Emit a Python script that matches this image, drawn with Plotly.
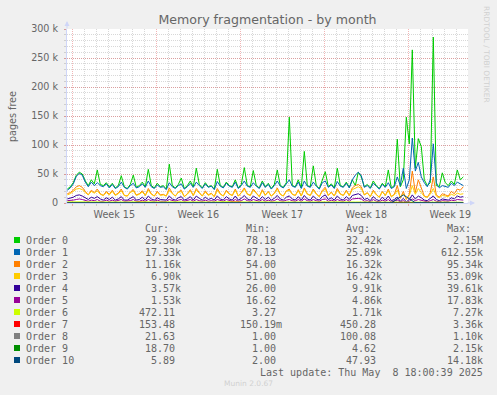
import numpy as np
import pandas as pd
import plotly.graph_objects as go

# ---------------- data (values in thousands of pages) ----------------
t_start = "2025-04-06 14:00"

order0 = [24, 28, 35, 48, 53, 50, 38, 30, 40, 33,
          57, 32, 30, 35, 28, 34, 26, 30, 47, 28,
          25, 32, 48, 27, 30, 36, 28, 58, 30, 26,
          34, 28, 30, 24, 67, 30, 26, 32, 43, 25,
          30, 38, 28, 60, 32, 26, 35, 28, 30, 24,
          58, 30, 27, 36, 30, 28, 40, 26, 32, 61,
          30, 28, 56, 30, 26, 38, 28, 34, 25, 32,
          57, 30, 27, 35, 148, 30, 28, 40, 26, 89,
          30, 28, 64, 30, 25, 38, 54, 28, 33, 26,
          60, 30, 28, 36, 27, 40, 30, 53, 45, 28,
          32, 26, 38, 30, 25, 34, 28, 57, 26, 30,
          110, 28, 40, 148, 102, 264, 60, 111, 97, 40,
          30, 35, 286, 30, 28, 52, 35, 30, 38, 32,
          57, 40, 45]
order1 = [22, 26, 33, 46, 51, 48, 36, 28, 36, 30,
          35, 30, 28, 33, 26, 32, 25, 28, 36, 27,
          24, 30, 34, 26, 28, 33, 27, 38, 28, 25,
          31, 27, 28, 23, 35, 28, 25, 30, 33, 24,
          28, 34, 27, 36, 30, 25, 33, 27, 29, 23,
          37, 29, 26, 34, 29, 27, 36, 25, 30, 38,
          29, 27, 35, 29, 25, 35, 27, 32, 24, 30,
          38, 29, 26, 33, 40, 29, 27, 36, 25, 38,
          29, 27, 36, 29, 24, 35, 38, 27, 31, 25,
          37, 29, 27, 34, 26, 40, 48, 53, 47, 27,
          30, 25, 34, 29, 24, 32, 27, 35, 25, 28,
          45, 30, 60, 25, 40, 112, 55, 70, 45, 35,
          28, 40, 102, 35, 26, 30, 28, 27, 34, 30,
          36, 33, 30]
order2 = [16, 18, 22, 28, 30, 27, 20, 14, 22, 18,
          24, 16, 13, 20, 15, 22, 14, 17, 24, 13,
          12, 19, 23, 14, 16, 21, 13, 25, 16, 12,
          20, 14, 15, 12, 26, 17, 12, 19, 22, 11,
          16, 23, 13, 25, 18, 12, 21, 14, 17, 11,
          25, 16, 12, 22, 16, 13, 24, 12, 18, 26,
          16, 13, 24, 17, 11, 23, 14, 20, 12, 17,
          26, 15, 12, 21, 24, 15, 13, 23, 12, 26,
          16, 13, 24, 16, 11, 22, 27, 13, 19, 12,
          25, 16, 13, 22, 13, 26, 30, 32, 28, 14,
          18, 11, 22, 15, 10, 20, 13, 24, 11, 15,
          30, 8, 20, 6, 15, 55, 18, 40, 25, 12,
          10, 18, 45, 14, 10, 16, 14, 12, 20, 16,
          24, 22, 28]
order3 = [14, 16, 20, 24, 25, 23, 18, 14, 20, 17,
          21, 15, 13, 18, 14, 20, 13, 16, 21, 13,
          12, 18, 21, 13, 15, 19, 13, 22, 15, 12,
          18, 13, 14, 12, 22, 16, 12, 18, 20, 11,
          15, 21, 13, 22, 17, 12, 19, 13, 16, 11,
          22, 15, 12, 20, 15, 13, 22, 12, 17, 24,
          15, 13, 22, 16, 11, 21, 13, 19, 12, 16,
          24, 15, 12, 20, 22, 15, 13, 21, 12, 24,
          15, 13, 22, 15, 11, 20, 24, 13, 18, 12,
          22, 15, 13, 20, 13, 23, 26, 28, 25, 14,
          17, 11, 20, 14, 10, 19, 13, 21, 11, 14,
          22, 10, 16, 8, 13, 30, 15, 25, 18, 11,
          10, 15, 25, 12, 9, 13, 12, 11, 15, 13,
          17, 15, 16]
order4 = [7, 8, 10, 13, 14, 12, 9, 6, 10, 8,
          11, 7, 5, 9, 6, 10, 5, 7, 11, 5,
          5, 8, 11, 5, 6, 10, 5, 12, 7, 5,
          9, 6, 6, 5, 12, 7, 5, 9, 11, 5,
          7, 11, 5, 12, 8, 5, 10, 6, 8, 5,
          12, 7, 5, 11, 7, 5, 12, 5, 8, 13,
          7, 5, 12, 8, 5, 11, 6, 10, 5, 8,
          13, 7, 5, 10, 12, 7, 5, 11, 5, 13,
          7, 5, 12, 7, 5, 11, 14, 6, 9, 5,
          12, 7, 5, 11, 6, 13, 15, 16, 13, 6,
          8, 4, 11, 6, 4, 10, 5, 12, 4, 6,
          10, 3, 8, 2, 6, 14, 7, 12, 9, 5,
          4, 8, 12, 6, 4, 7, 6, 5, 9, 7,
          12, 10, 11]
order5 = [4, 4, 5, 6, 7, 6, 5, 3, 5, 4,
          6, 3, 3, 5, 3, 5, 3, 4, 6, 3,
          3, 4, 6, 3, 3, 5, 3, 6, 4, 3,
          5, 3, 3, 3, 6, 4, 3, 5, 6, 3,
          4, 6, 3, 6, 4, 3, 5, 3, 4, 3,
          6, 4, 3, 6, 4, 3, 6, 3, 4, 7,
          4, 3, 6, 4, 3, 6, 3, 5, 3, 4,
          7, 4, 3, 5, 6, 4, 3, 6, 3, 7,
          4, 3, 6, 4, 3, 6, 7, 3, 5, 3,
          6, 4, 3, 6, 3, 7, 8, 8, 7, 3,
          4, 2, 6, 3, 2, 5, 3, 6, 2, 3,
          5, 2, 4, 1, 3, 7, 4, 6, 5, 3,
          2, 4, 6, 3, 2, 4, 3, 3, 5, 4,
          6, 5, 5]
# daily samples for the small orders
order6 = [2.0, 1.8, 2.2, 1.5, 1.9, 1.7, 2.1, 1.6, 1.8, 2.0, 1.5, 1.9, 1.7, 2.2, 1.6, 1.8, 1.9,
          1.5, 2.0, 1.7, 1.8, 2.1, 1.6, 1.9, 1.7, 1.5, 2.0, 1.8, 1.2, 0.9, 1.4, 1.6, 1.5, 1.3]
order7 = [0.5, 0.3, 0.8, 0.4, 0.6, 0.2, 1.2, 0.5, 0.3, 0.7, 0.4, 0.9, 0.3, 0.5, 1.5, 0.4, 0.6,
          0.3, 0.8, 0.5, 0.4, 1.0, 0.3, 0.6, 0.4, 0.7, 0.5, 0.3, 0.9, 0.2, 0.4, 0.3, 0.5, 0.2]
order8 = [0.10, 0.12, 0.08, 0.11, 0.09, 0.10, 0.13, 0.08, 0.10, 0.11, 0.09, 0.10, 0.12, 0.08, 0.10, 0.11, 0.09,
          0.10, 0.12, 0.09, 0.10, 0.11, 0.08, 0.10, 0.12, 0.09, 0.10, 0.11, 0.15, 0.06, 0.10, 0.09, 0.08, 0.02]
order9 = [0.005, 0.004, 0.006, 0.005, 0.004, 0.005, 0.006, 0.004, 0.005, 0.005, 0.004, 0.006, 0.005, 0.004, 0.005, 0.006, 0.004,
          0.005, 0.005, 0.004, 0.006, 0.005, 0.004, 0.005, 0.006, 0.004, 0.005, 0.005, 0.008, 0.003, 0.004, 0.005, 0.004, 0.019]
order10 = [0.04, 0.05, 0.03, 0.05, 0.04, 0.06, 0.04, 0.05, 0.03, 0.05, 0.04, 0.05, 0.06, 0.04, 0.05, 0.03, 0.05,
           0.04, 0.05, 0.04, 0.06, 0.04, 0.05, 0.03, 0.05, 0.04, 0.06, 0.05, 14.0, 0.5, 0.05, 0.04, 0.05, 0.006]

series_names = ["Order 0", "Order 1", "Order 2", "Order 3", "Order 4", "Order 5",
                "Order 6", "Order 7", "Order 8", "Order 9", "Order 10"]
series_colors = ["#00CC00", "#0066B3", "#FF8000", "#FFCC00", "#330099", "#990099",
                 "#CCFF00", "#FF0000", "#808080", "#008F00", "#00487D"]
cur_vals = ["29.30k", "17.33k", "11.16k", "6.90k", "3.57k", "1.53k", "472.11", "153.48", "21.63", "18.70", "5.89"]
min_vals = ["78.18", "87.13", "54.00", "51.00", "26.00", "16.62", "3.27", "150.19m", "1.00", "1.00", "2.00"]
avg_vals = ["32.42k", "25.89k", "16.32k", "16.42k", "9.91k", "4.86k", "1.71k", "450.28", "100.08", "4.62", "47.93"]
max_vals = ["2.15M", "612.55k", "95.34k", "53.09k", "39.61k", "17.83k", "7.27k", "3.36k", "1.10k", "2.15k", "14.18k"]

y_tickvals = [0, 50000, 100000, 150000, 200000, 250000, 300000]
y_ticktext = ["0", "50 k", "100 k", "150 k", "200 k", "250 k", "300 k"]

title_text = "Memory fragmentation - by month"
ylabel_text = "pages free"
last_update_text = "Last update: Thu May\u00a0\u00a08 18:00:39 2025"
munin_text = "Munin 2.0.67"
rrd_text = "RRDTOOL / TOBI OETIKER"

# ---------------- figure ----------------
W, H = 497, 395
L, R, T, B = 67, 468, 29, 203

def px(x):
    return (x - L) / (R - L)

def py(y):
    return (B - y) / (B - T)

t6 = pd.date_range(t_start, periods=len(order0), freq="6h")
td = pd.date_range(t_start, periods=len(order6), freq="24h")
all_series = [order0, order1, order2, order3, order4, order5,
              order6, order7, order8, order9, order10]

fig = go.Figure()
for k, (name, col, vals) in enumerate(zip(series_names, series_colors, all_series)):
    xs = t6 if len(vals) == len(t6) else td
    fig.add_trace(go.Scatter(x=xs, y=np.array(vals) * 1000.0, mode="lines", name=name,
                             line=dict(color=col, width=1), hoverinfo="skip"))

FONT = "DejaVu Sans"
MONO = "DejaVu Sans Mono"
TXT = "#666666"
MAJ = "rgba(225,90,90,0.45)"
MIN = "rgba(143,143,143,0.35)"
AXC = "#CFD6F8"

fig.update_layout(
    width=W, height=H,
    margin=dict(l=L, r=W - R, t=T, b=H - B, pad=0),
    paper_bgcolor="#F0F0F0", plot_bgcolor="#FFFFFF",
    showlegend=False,
    title=dict(text=title_text, x=0.5, xref="paper", xanchor="center",
               y=1 - 19.5 / H, yref="container", yanchor="middle",
               font=dict(family=FONT, size=12.6, color=TXT)),
    xaxis=dict(type="date", range=["2025-04-06 13:24", "2025-05-09 23:24"],
               tick0="2025-04-07", dtick=7 * 86400000, ticklabelmode="period",
               tickformat="Week %V", showgrid=True, gridcolor=MAJ, griddash="1px,1px",
               gridwidth=1, ticks="outside", ticklen=2, tickcolor=MAJ,
               showline=True, linecolor=AXC, linewidth=1, zeroline=False,
               tickfont=dict(family=FONT, size=9.6, color=TXT),
               minor=dict(dtick=86400000, tick0="2025-04-07", showgrid=True, gridcolor=MIN,
                          griddash="1px,1px", ticks="outside", ticklen=2, tickcolor=MIN)),
    yaxis=dict(range=[0, 300000], tickvals=y_tickvals, ticktext=y_ticktext,
               showgrid=True, gridcolor=MAJ, griddash="1px,1px", gridwidth=1,
               ticks="outside", ticklen=2, tickcolor=MAJ, ticklabelstandoff=4,
               showline=True, linecolor=AXC, linewidth=1, zeroline=False,
               tickfont=dict(family=FONT, size=9.6, color=TXT),
               minor=dict(dtick=10000, tick0=0, showgrid=True, gridcolor=MIN,
                          griddash="1px,1px", ticks="outside", ticklen=2, tickcolor=MIN)),
)

ann = []
def text_at(x, y, s, xanchor="left", font=MONO, size=10, color=TXT, angle=0):
    ann.append(dict(x=px(x), y=py(y), xref="paper", yref="paper", text=s, showarrow=False,
                    xanchor=xanchor, yanchor="middle", textangle=angle,
                    borderpad=0, borderwidth=0,
                    font=dict(family=font, size=size, color=color)))

# axis label and watermark texts
text_at(12, 117, ylabel_text, xanchor="center", font=FONT, size=9.6, angle=-90)
text_at(487, 54, rrd_text, xanchor="center", font=FONT, size=7.5, color="#D0D0D0", angle=90)
text_at(248, 384, munin_text, xanchor="center", font=FONT, size=7.5, color="#D0D0D0")

# legend header
for hdr, xl in zip(["Cur:", "Min:", "Avg:", "Max:"], [145, 246, 346, 447]):
    text_at(xl, 228, hdr)

col_edges = [181, 282, 382, 483]
shapes = []
for k, name in enumerate(series_names):
    yy = 240 + 12 * k
    shapes.append(dict(type="rect", xref="paper", yref="paper",
                       x0=px(14), x1=px(20), y0=py(yy + 3), y1=py(yy - 3),
                       fillcolor=series_colors[k], line=dict(width=0)))
    text_at(26, yy, name)
    for vals, edge in zip([cur_vals, min_vals, avg_vals, max_vals], col_edges):
        v = vals[k]
        e = edge if v[-1].isalpha() else edge - 6
        text_at(e, yy, v, xanchor="right")

text_at(483, 372, last_update_text, xanchor="right")

# axis arrows
ann.append(dict(x=px(67), y=py(21), xref="paper", yref="paper", text="", showarrow=True,
                ax=0, ay=9, arrowhead=2, arrowsize=1, arrowwidth=1, arrowcolor=AXC))
ann.append(dict(x=px(475), y=py(203), xref="paper", yref="paper", text="", showarrow=True,
                ax=-9, ay=0, arrowhead=2, arrowsize=1, arrowwidth=1, arrowcolor=AXC))

fig.update_layout(annotations=ann, shapes=shapes)
fig.write_html("out.html")
